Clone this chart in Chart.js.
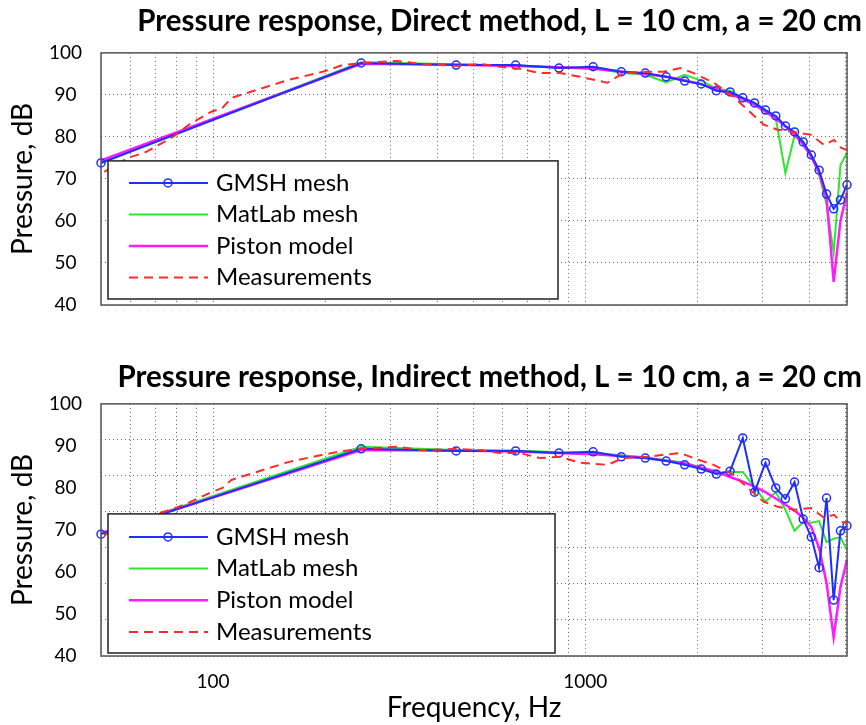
<!DOCTYPE html>
<html lang="en">
<head>
<meta charset="UTF-8">
<title>Pressure response</title>
<script src="https://cdn.jsdelivr.net/npm/chart.js"></script>
<style>
  body { margin: 0; background: #fff; }
  canvas { display: block; }
</style>
</head>
<body>
<canvas id="chartDirect" width="866" height="340"></canvas>
<canvas id="chartIndirect" width="866" height="385"></canvas>
<script>
// frequencies (Hz)
const meshFreq = [50, 250, 450, 650, 850, 1050, 1250, 1450, 1650, 1850, 2050, 2250, 2450,
                  2650, 2850, 3050, 3250, 3450, 3650, 3850, 4050, 4250, 4450, 4650, 4850, 5050];
const measFreq = [51, 59, 66, 78, 86, 99, 106, 112, 131, 160, 197, 223, 252, 311, 366, 452, 521,
                  590, 668, 756, 856, 969, 1147, 1266, 1469, 1622, 1803, 1955, 2213, 2506, 2734,
                  3019, 3293, 3636, 4042, 4380, 4660, 4870, 5050];

// direct method (dB)
const directGmsh = [73.8, 97.6, 97.1, 97.1, 96.4, 96.7, 95.5, 95.2, 94.3, 93.3, 92.6, 91.0, 90.7,
                    89.3, 88.1, 86.4, 85.0, 82.6, 81.2, 78.8, 75.7, 72.1, 66.4, 62.9, 65.0, 68.6];
const directMatlab = [74.0, 97.8, 97.3, 97.0, 96.6, 96.4, 95.3, 94.8, 93.0, 94.8, 93.4, 91.5, 91.0,
                      89.3, 88.0, 86.4, 84.5, 71.4, 80.3, 79.0, 75.5, 71.0, 64.0, 52.4, 73.3, 76.2];
const directPiston = [74.4, 97.4, 97.2, 96.9, 96.6, 96.2, 95.6, 95.0, 94.3, 93.5, 92.5, 91.4, 90.2,
                      89.0, 87.6, 86.0, 84.4, 82.5, 80.5, 78.2, 75.3, 71.5, 65.5, 45.5, 60.0, 66.7];
const directMeas = [71.7, 75.0, 76.4, 80.0, 82.9, 86.0, 86.9, 89.3, 91.2, 93.6, 95.5, 97.1, 97.6,
                    98.1, 97.4, 96.9, 97.4, 96.7, 96.2, 95.2, 95.2, 94.3, 92.9, 95.2, 95.5, 95.5,
                    96.4, 95.2, 92.9, 89.5, 86.4, 82.9, 81.7, 81.2, 80.5, 78.1, 79.3, 77.4, 76.9];

// indirect method (dB)
const indirectGmsh = [69.0, 89.3, 88.8, 88.8, 88.3, 88.6, 87.4, 87.1, 86.4, 85.5, 84.5, 83.3, 84.0,
                      91.9, 79.0, 86.0, 80.0, 77.4, 81.4, 72.6, 68.3, 61.0, 77.6, 53.3, 69.8, 71.0];
const indirectMatlab = [69.2, 89.8, 89.0, 88.9, 88.5, 88.3, 87.8, 87.3, 86.6, 86.0, 84.8, 83.6, 83.8,
                        83.8, 80.2, 76.7, 79.0, 74.8, 69.8, 71.9, 71.7, 72.1, 67.1, 67.9, 68.3, 65.2];
const indirectPiston = [69.2, 89.0, 88.9, 88.7, 88.3, 88.0, 87.6, 87.1, 86.5, 85.8, 84.8, 83.9, 82.6,
                        81.5, 80.3, 79.0, 77.5, 76.0, 74.6, 72.9, 70.7, 65.7, 57.4, 44.5, 56.4, 62.9];
const indirectMeas = [68.8, 71.0, 73.0, 75.0, 76.5, 79.0, 80.0, 81.9, 83.8, 86.2, 87.9, 88.8, 89.3,
                      89.8, 89.0, 89.3, 89.0, 88.3, 88.3, 87.1, 87.4, 86.0, 85.5, 87.1, 87.4, 87.9,
                      88.3, 87.1, 85.5, 83.1, 80.0, 76.7, 75.5, 74.8, 75.2, 72.9, 73.6, 71.9, 71.7];

// axes
const xGridTicks = [50, 60, 70, 80, 90, 100, 200, 300, 400, 500, 600, 700, 800, 900,
                    1000, 2000, 3000, 4000, 5000, 5050];
const xTickLabels = [100, 1000];
const yTickLabels = [40, 50, 60, 70, 80, 90, 100];
const indirectGridSteps = 7; // grid of the lower plot does not follow its labels

const FONT = 'Lato';

function pts(xs, ys) { return xs.map((x, i) => ({ x: x, y: ys[i] })); }

function makeDatasets(gmsh, matlab, piston, meas) {
  return [
    { label: 'GMSH mesh', data: pts(meshFreq, gmsh), borderColor: '#1f2fff', borderWidth: 2,
      pointRadius: 4, pointBorderWidth: 1.5, pointBorderColor: '#1f2fff',
      pointBackgroundColor: 'rgba(0,0,0,0)', order: 2 },
    { label: 'MatLab mesh', data: pts(meshFreq, matlab), borderColor: '#2ee62e', borderWidth: 2,
      pointRadius: 0, order: 4 },
    { label: 'Piston model', data: pts(meshFreq, piston), borderColor: '#ff1aff', borderWidth: 2.5,
      pointRadius: 0, order: 3 },
    { label: 'Measurements', data: pts(measFreq, meas), borderColor: '#ff2a2a', borderWidth: 2,
      borderDash: [9, 6], pointRadius: 0, order: 1 }
  ];
}

// frame round the axes + legend box inside
const boxLegend = {
  id: 'boxLegend',
  afterDatasetsDraw(chart, args, o) {
    const ctx = chart.ctx, a = chart.chartArea;
    ctx.save();
    ctx.strokeStyle = '#555';
    ctx.lineWidth = 1.5;
    ctx.strokeRect(a.left, a.top, a.right - a.left, a.bottom - a.top);

    const x = a.left + o.left, y = a.top + o.top;
    const w = o.width, h = a.bottom - o.bottom - y;
    ctx.fillStyle = '#fff';
    ctx.fillRect(x, y, w, h);
    ctx.strokeStyle = '#222';
    ctx.strokeRect(x, y, w, h);
    ctx.font = '24px ' + FONT;
    ctx.textBaseline = 'middle';
    chart.data.datasets.forEach((ds, i) => {
      const ry = y + o.rowTop + i * o.rowGap;
      ctx.strokeStyle = ds.borderColor;
      ctx.lineWidth = ds.borderWidth;
      ctx.setLineDash(ds.borderDash || []);
      ctx.beginPath();
      ctx.moveTo(x + 21, ry);
      ctx.lineTo(x + 100, ry);
      ctx.stroke();
      ctx.setLineDash([]);
      if (ds.pointRadius > 0) {
        ctx.lineWidth = ds.pointBorderWidth;
        ctx.beginPath();
        ctx.arc(x + 60, ry, ds.pointRadius, 0, Math.PI * 2);
        ctx.stroke();
      }
      ctx.fillStyle = '#000';
      ctx.fillText(ds.label, x + 108, ry);
    });
    ctx.restore();
  }
};

function makeChart(id, title, datasets, opts) {
  return new Chart(document.getElementById(id), {
    type: 'line',
    data: { datasets: datasets },
    plugins: [boxLegend],
    options: {
      responsive: false,
      animation: false,
      events: [],
      layout: { padding: { left: 0, right: 4, top: 0, bottom: 0 } },
      elements: { line: { tension: 0, fill: false } },
      datasets: { line: { clip: false } },
      plugins: {
        legend: { display: false },
        tooltip: { enabled: false },
        title: {
          display: true, text: title, align: 'end', color: '#000',
          font: { family: FONT, size: 29.5, weight: 'bold' },
          padding: opts.titlePad
        },
        boxLegend: opts.legend
      },
      scales: {
        x: {
          type: 'logarithmic', min: 50, max: 5050,
          afterBuildTicks: s => { s.ticks = xGridTicks.map(v => ({ value: v })); },
          afterFit: s => { s.height = opts.xHeight; },
          grid: { color: '#666', lineWidth: 1, drawTicks: false, borderDash: [1, 3] },
          border: { display: false, dash: [1, 3] },
          ticks: {
            display: opts.xLabels, autoSkip: false, maxRotation: 0, padding: 14, color: '#000',
            font: { family: FONT, size: 19 },
            callback: v => xTickLabels.includes(v) ? String(v) : ''
          },
          title: {
            display: opts.xLabels, text: 'Frequency, Hz', color: '#000',
            font: { family: FONT, size: 28 }, padding: { top: 0, bottom: 0 }
          }
        },
        y: {
          position: 'left', min: 40, max: 100,
          afterBuildTicks: s => { s.ticks = yTickLabels.map(v => ({ value: v })); },
          afterFit: s => { s.width = 101; },
          grid: { display: false },
          border: { display: false },
          ticks: { padding: 11, crossAlign: 'center', color: '#000', font: { family: FONT, size: 19 } },
          title: {
            display: true, text: 'Pressure, dB', color: '#000',
            font: { family: FONT, size: 28 }, padding: { top: 6, bottom: 0 }
          }
        },
        yGrid: {
          position: 'right', min: 40, max: 100,
          afterBuildTicks: s => {
            const t = [];
            for (let i = 0; i <= opts.gridSteps; i++) t.push({ value: 40 + i * 60 / opts.gridSteps });
            s.ticks = t;
          },
          afterFit: s => { s.width = 15; },
          grid: { color: '#666', lineWidth: 1, drawTicks: false, borderDash: [1, 3] },
          border: { display: false, dash: [1, 3] },
          ticks: { display: false }
        }
      }
    }
  });
}

makeChart('chartDirect', 'Pressure response, Direct method, L = 10 cm, a = 20 cm',
  makeDatasets(directGmsh, directMatlab, directPiston, directMeas),
  { titlePad: { top: 4, bottom: 13.5 }, xHeight: 35, xLabels: false, gridSteps: 6,
    legend: { left: 7, top: 108, width: 450, bottom: 6, rowTop: 22, rowGap: 31.5 } });

makeChart('chartIndirect', 'Pressure response, Indirect method, L = 10 cm, a = 20 cm',
  makeDatasets(indirectGmsh, indirectMatlab, indirectPiston, indirectMeas),
  { titlePad: { top: 20, bottom: 8.5 }, xHeight: 69, xLabels: true, gridSteps: indirectGridSteps,
    legend: { left: 7, top: 110, width: 447, bottom: 3, rowTop: 23, rowGap: 31.7 } });
</script>
</body>
</html>
